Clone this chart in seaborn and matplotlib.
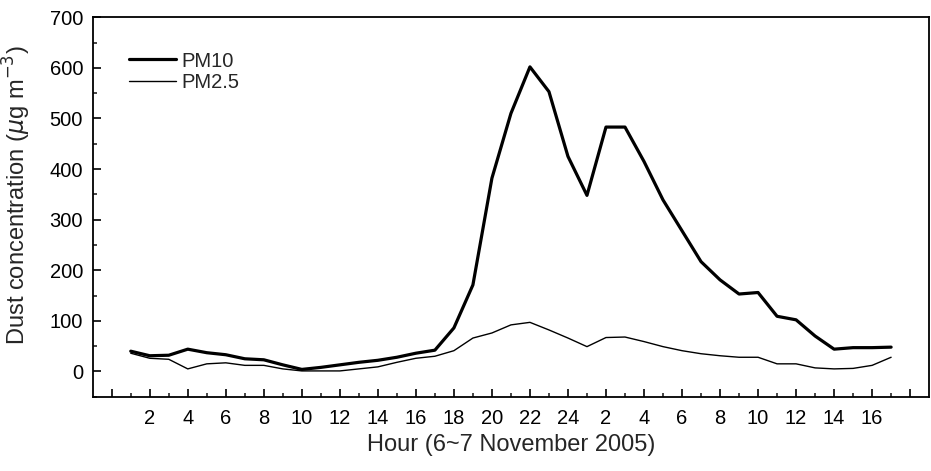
import numpy as np
import pandas as pd
import matplotlib
matplotlib.use("Agg")
import matplotlib.pyplot as plt
import seaborn as sns
from matplotlib.ticker import FixedLocator, MultipleLocator
from matplotlib.lines import Line2D

# Hours: 6 Nov 1..24, then 7 Nov 1..17
hours_day6 = list(range(1, 25))
hours_day7 = list(range(1, 18))

pm10 = [40, 31, 32, 44, 37, 33, 25, 23, 13, 4, 8, 13, 18, 22, 28, 36, 42, 86, 171, 382,
        510, 602, 553, 425, 348, 483, 483, 415, 339, 278, 217, 181, 153, 156, 109, 102,
        70, 44, 47, 47, 48]
pm25 = [36, 26, 24, 5, 15, 17, 12, 12, 5, 1, 1, 1, 5, 9, 18, 26, 30, 41, 66, 76,
        92, 97, 82, 66, 49, 67, 68, 59, 49, 41, 35, 31, 28, 28, 15, 15,
        7, 5, 6, 12, 28]

tick_labels = [""] + [str(h) for h in range(2, 25, 2)] + [str(h) for h in range(2, 17, 2)] + [""]

idx = np.arange(1, len(hours_day6) + len(hours_day7) + 1)
df = pd.DataFrame({
    "idx": np.concatenate([idx, idx]),
    "value": pm10 + pm25,
    "series": ["PM10"] * len(pm10) + ["PM2.5"] * len(pm25),
})

sns.set_style("ticks")
plt.rcParams["font.family"] = ["Liberation Sans", "DejaVu Sans"]

fig = plt.figure(figsize=(9.31, 4.71), dpi=100)
ax = fig.add_axes([0.0996, 0.1577, 0.8984, 0.8056])

sns.lineplot(data=df, x="idx", y="value", hue="series", size="series",
             sizes={"PM10": 2.3, "PM2.5": 1.0},
             palette={"PM10": "black", "PM2.5": "black"}, ax=ax, legend=False)

ax.set_xlim(-1, 43)
ax.set_ylim(-50, 700)

major_x = list(range(0, 43, 2))
ax.xaxis.set_major_locator(FixedLocator(major_x))
ax.set_xticklabels(tick_labels)
ax.xaxis.set_minor_locator(FixedLocator(list(range(1, 43, 2))))
ax.yaxis.set_major_locator(MultipleLocator(100))
ax.yaxis.set_minor_locator(MultipleLocator(50))

ax.tick_params(axis="both", which="major", direction="in", length=6, width=1.2,
               labelsize=14.5, colors="black")
ax.tick_params(axis="both", which="minor", direction="in", length=3, width=1.2)
ax.tick_params(axis="x", which="both", pad=9)
ax.tick_params(axis="y", which="both", pad=7)

for s in ax.spines.values():
    s.set_linewidth(1.3)
    s.set_color("black")

ax.set_xlabel("Hour (6~7 November 2005)", fontsize=17, labelpad=4)
ax.set_ylabel(r"Dust concentration ($\mu$g m$^{-3}$)", fontsize=17)
ax.yaxis.set_label_coords(-0.0714, 0.53)

handles = [Line2D([], [], color="black", lw=2.3), Line2D([], [], color="black", lw=1.0)]
ax.legend(handles, ["PM10", "PM2.5"], loc="center left", frameon=False, fontsize=14.5,
          bbox_to_anchor=(0.0434, 0.857), handlelength=2.33, handletextpad=0.25,
          labelspacing=0.1, borderpad=0, borderaxespad=0)

fig.savefig("out.png", dpi=100)
